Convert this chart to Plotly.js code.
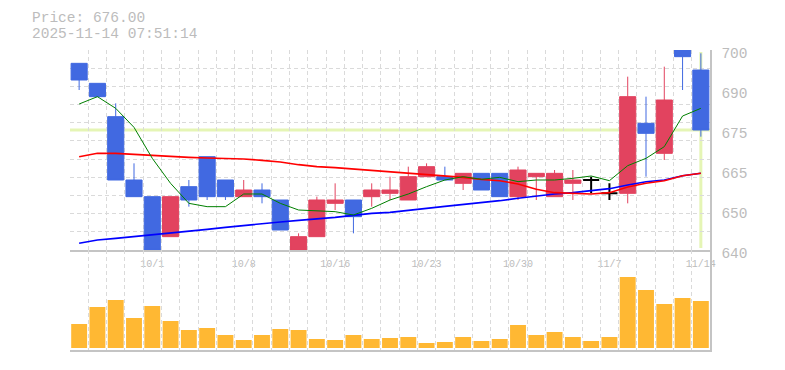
<!DOCTYPE html>
<html><head><meta charset="utf-8">
<script src="https://cdn.plot.ly/plotly-3.0.1.min.js"></script>
<style>html,body{margin:0;padding:0;background:#fff}</style>
</head><body><div id="chart" style="width:785px;height:370px"></div>
<script>
const dates = ['9/25','9/26','9/29','9/30','10/1','10/2','10/3','10/6','10/7','10/8','10/9','10/10','10/14','10/15','10/16','10/17','10/20','10/21','10/22','10/23','10/24','10/27','10/28','10/29','10/30','10/31','11/4','11/5','11/6','11/7','11/10','11/11','11/12','11/13','11/14'];
const openP  = [696,690,680,661,656,644,659,668,661,656,658,655,640,644,654,655,656,657,655,662,662,660,663,663,656,662,656,660,661,657,657,678,669,701,694];
const highP  = [696,690,684,666,656,656,661,668,661,661,660,655,645,656,660,655,660,662,665,666,665,663,663,663,665,663,664,664,662,660,692,686,695,701,699];
const lowP   = [688,686,661,656,640,644,653,655,655,656,654,646,640,644,652,645,653,655,655,662,661,658,658,656,655,655,656,655,657,655,654,662,667,688,674];
const closeP = [691,686,661,656,640,656,655,656,656,658,656,646,644,655,655,650,658,658,662,665,661,663,658,656,664,663,663,661,661,657,686,675,685,698,676];
const ma5  = [683.8,686.0,682.5,676.8,667.5,660.0,654.0,653.0,653.0,656.8,656.8,654.0,652.0,651.8,651.5,650.5,652.5,655.0,656.8,659.0,661.0,662.0,661.2,661.8,660.5,661.0,661.0,661.5,662.2,660.8,665.3,667.5,671.0,680.2,682.5];
const ma25 = [668.0,669.0,669.0,668.7,668.2,667.9,667.8,667.6,667.5,667.3,666.9,666.4,665.6,665.0,664.7,664.3,663.8,663.4,663.1,662.7,662.4,661.8,661.2,660.8,659.8,658.2,657.2,656.9,656.8,657.2,658.9,660.0,660.8,662.3,663.0];
const ma75 = [642.0,643.0,643.5,644.0,644.5,645.2,645.7,646.2,646.8,647.4,648.0,648.4,648.9,649.3,649.8,650.4,651.0,651.3,651.8,652.5,653.1,653.6,654.1,654.8,655.5,656.2,656.8,657.2,657.7,658.4,659.5,660.5,661.0,662.3,663.0];
const volume = [24000,41000,48000,30000,42000,27000,18000,20000,13000,8000,13000,19000,18000,9000,8000,13000,9000,10000,11000,5000,6000,11000,7000,9000,23000,13000,16000,11000,7000,11000,71000,58000,44000,50000,47000];
const xTickLabels = ['10/1','10/8','10/16','10/23','10/30','11/7','11/14'];
const yTickVals = [640,652,664,676,688,700];
const yTickText = ['640','650','665','675','690','700'];
const stamp = '2025-11-14 07:51:14';

const idx = dates.map((d,i)=>i);
const lastPrice = closeP[closeP.length-1];
const MONO = 'Liberation Mono';
const RED = '#E2435F', BLUE = '#4169E1', GRID = '#dadada', AX = '#c4c4c4', TXT = '#bcbcbc';

const normal = idx.filter(i => openP[i] !== closeP[i]);
const doji = idx.filter(i => openP[i] === closeP[i]);
const pick = (arr, ids) => ids.map(i => arr[i]);

const traces = [
  {type:'scatter', mode:'lines', x:idx, y:ma75, line:{color:'#0000ff', width:1.6}, hoverinfo:'skip'},
  {type:'scatter', mode:'lines', x:idx, y:ma25, line:{color:'#ff0000', width:1.6}, hoverinfo:'skip'},
  {type:'scatter', mode:'lines', x:idx, y:ma5, line:{color:'#008000', width:1}, hoverinfo:'skip'},
  {type:'candlestick', x:pick(idx,normal), open:pick(openP,normal), high:pick(highP,normal), low:pick(lowP,normal), close:pick(closeP,normal),
   increasing:{line:{color:RED, width:1}, fillcolor:RED}, decreasing:{line:{color:BLUE, width:1}, fillcolor:BLUE}, whiskerwidth:0, hoverinfo:'skip'},
  {type:'candlestick', x:pick(idx,doji), open:pick(openP,doji), high:pick(highP,doji), low:pick(lowP,doji), close:pick(closeP,doji),
   increasing:{line:{color:'#000', width:2}, fillcolor:'#000'}, decreasing:{line:{color:'#000', width:2}, fillcolor:'#000'}, whiskerwidth:0, hoverinfo:'skip'},
  {type:'bar', x:idx, y:volume, xaxis:'x2', yaxis:'y2', marker:{color:'#FFB833', line:{width:0}}, width:0.87, hoverinfo:'skip'}
];

const gridX = {tickmode:'linear', tick0:-0.5, dtick:1, showgrid:true, gridcolor:GRID, griddash:'4px,3px', gridwidth:1};
const layout = {
  width:785, height:370, margin:{l:70, r:75, t:50, b:20},
  paper_bgcolor:'#fff', plot_bgcolor:'#fff', showlegend:false, boxgap:0.12, boxgroupgap:0,
  xaxis:{range:[-0.5,34.5], anchor:'y', tickmode:'array', tickvals:xTickLabels.map(l=>dates.indexOf(l)), ticktext:xTickLabels,
    showgrid:false, zeroline:false, showline:true, linecolor:AX, linewidth:1.5, ticks:'', ticklabelstandoff:3,
    tickfont:{family:MONO, size:10, color:TXT}, minor:gridX, rangeslider:{visible:false}, fixedrange:true},
  yaxis:{domain:[1/3,1], range:[640,700], side:'right', tickmode:'array', tickvals:yTickVals, ticktext:yTickText,
    showgrid:false, zeroline:false, showline:true, linecolor:AX, linewidth:1.5, ticks:'outside', ticklen:7, tickcolor:'rgba(0,0,0,0)',
    tickfont:{family:MONO, size:14.5, color:TXT}, ticklabelshift:3,
    minor:{tickmode:'linear', tick0:640, dtick:60/11, showgrid:true, gridcolor:GRID, griddash:'4px,3px', gridwidth:1, ticks:''}, fixedrange:true},
  xaxis2:{range:[-0.5,34.5], anchor:'y2', showticklabels:false, showgrid:false, zeroline:false, showline:true, linecolor:AX, linewidth:1.5, ticks:'', minor:gridX, fixedrange:true},
  yaxis2:{domain:[0,1/3], range:[-2000,98000], side:'right', showticklabels:false, showgrid:false, zeroline:false, showline:true, linecolor:AX, linewidth:1.5, ticks:'', fixedrange:true},
  shapes:[
    {type:'line', xref:'x domain', x0:0, x1:1, yref:'y', y0:lastPrice, y1:lastPrice, line:{color:'#E5F5B5', width:3}, layer:'below'},
    {type:'line', xref:'x', x0:dates.length-1, x1:dates.length-1, yref:'y domain', y0:0.01, y1:0.99, line:{color:'#E5F5B5', width:3}, layer:'below'}
  ],
  annotations:[
    {xref:'paper', yref:'paper', x:-40/640, y:(350-18)/300, xanchor:'left', yanchor:'middle', height:14, showarrow:false,
     text:'Price: ' + lastPrice.toFixed(2), font:{family:MONO, size:14.5, color:TXT}},
    {xref:'paper', yref:'paper', x:-40/640, y:(350-33.5)/300, xanchor:'left', yanchor:'middle', height:14, showarrow:false,
     text:stamp, font:{family:MONO, size:14.5, color:TXT}}
  ]
};
Plotly.newPlot('chart', traces, layout, {staticPlot:true, displayModeBar:false});
</script></body></html>
